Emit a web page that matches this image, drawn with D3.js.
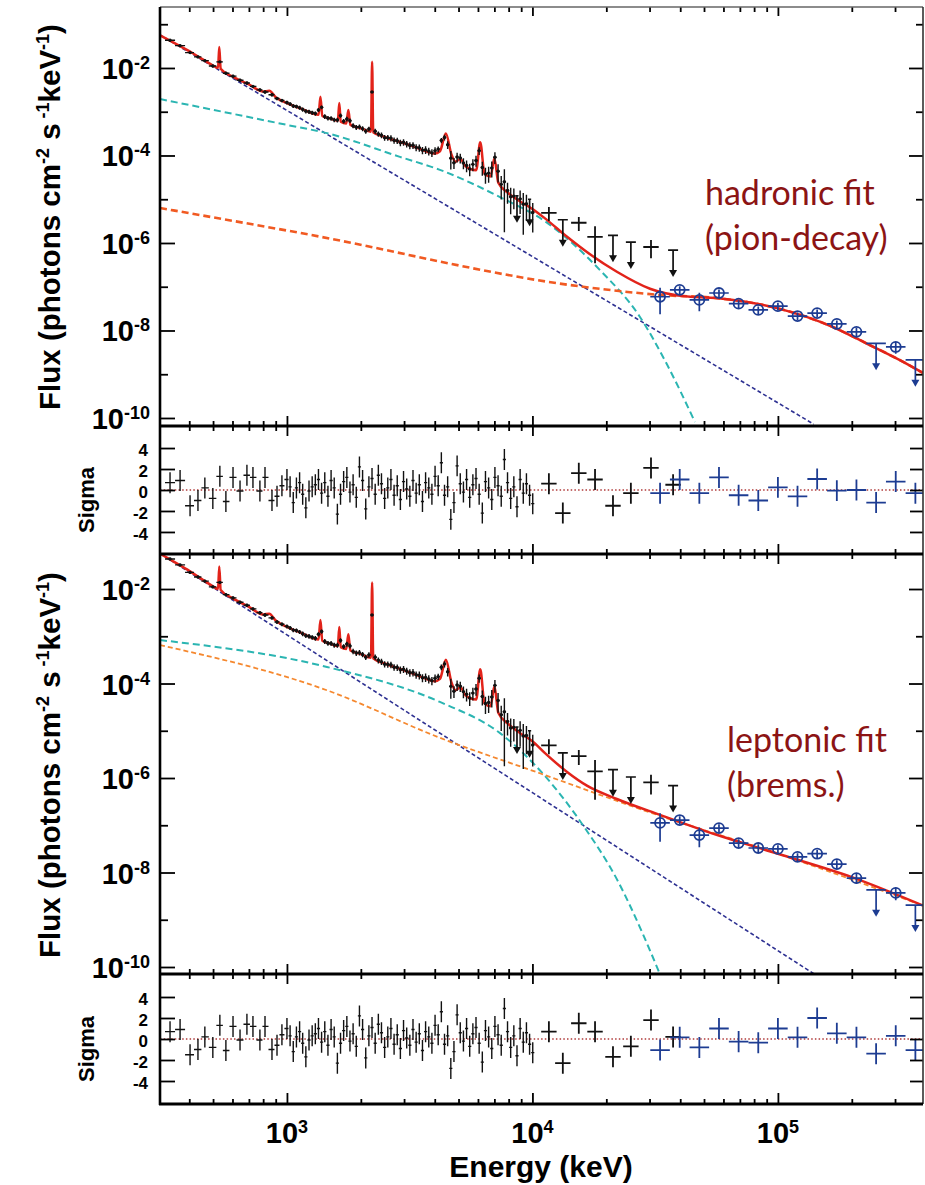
<!DOCTYPE html>
<html>
<head>
<meta charset="utf-8">
<title>Flare spectrum fits</title>
<script src="https://cdn.jsdelivr.net/npm/d3@7/dist/d3.min.js"></script>
<style>
	body {margin:0; background:#ffffff;}
	svg {display:block; font-family:"Liberation Sans", Arial, Helvetica, sans-serif; font-weight:bold;}
	.fitNote {font-family:Lato, "Open Sans", sans-serif; font-weight:normal; fill:#8c1414;}
</style>
</head>
<body>
<div id="idSpectrum"></div>
<script>
var aEnergyMajor = [1e3, 1e4, 1e5];
var aFluxMajor = [1e-10, 1e-8, 1e-6, 1e-4, 1e-2];
var aFluxMinor = [1e-9, 1e-7, 1e-5, 1e-3, 1e-1];
var aSigmaTicks = [-4, -2, 0, 2, 4];
var aFitNotes = [["hadronic fit", "(pion-decay)"], ["leptonic fit", "(brems.)"]];

// GBM fine bins (keV, photons cm-2 s-1 keV-1, relative error, residual)
var aGbmEnergy = [334,367,403,434,463,499,533,564,603,644,687,727,776,814,869,911,954,1000,
	1030,1061,1093,1126,1159,1194,1230,1267,1305,1344,1384,1426,1469,1513,1558,1605,1653,1702,1754,1806,
	1860,1916,1974,2033,2094,2157,2221,2288,2357,2427,2500,2575,2652,2732,2814,2898,2985,3075,3167,3262,
	3360,3461,3565,3671,3782,3895,4012,4132,4256,4384,4515,4651,4790,4934,5082,5235,5392,5553,5720,5891,
	6068,6250,6438,6631,6830,7034,7245,7463,7687,7917,8155,8400,8652,8911,9178,9454,9737,10030];
var aGbmFlux = [4.31e-2,3.24e-2,2.25e-2,1.79e-2,1.47e-2,1.11e-2,1.38e-2,7.6e-3,6.5e-3,5.25e-3,4.52e-3,3.8e-3,3.16e-3,2.82e-3,2.45e-3,2.0e-3,1.8e-3,1.62e-3,
	1.50e-3,1.35e-3,1.32e-3,1.24e-3,1.13e-3,1.03e-3,1.0e-3,9.5e-4,9.08e-4,1.10e-3,
	1.26e-3,7.8e-4,7.13e-4,7.05e-4,6.53e-4,6.49e-4,8.17e-4,6.08e-4,6.84e-4,6.25e-4,
	4.80e-4,4.41e-4,4.51e-4,4.12e-4,3.60e-4,4.04e-4,2.82e-3,3.60e-4,3.10e-4,2.90e-4,
	2.56e-4,2.54e-4,2.50e-4,2.21e-4,2.18e-4,1.95e-4,2.0e-4,1.84e-4,1.69e-4,1.71e-4,
	1.53e-4,1.50e-4,1.32e-4,1.35e-4,1.25e-4,1.15e-4,1.29e-4,1.40e-4,2.21e-4,2.58e-4,
	1.77e-4,8.7e-5,6.84e-5,9.27e-5,8.77e-5,6.75e-5,5.94e-5,4.92e-5,6.27e-5,7.66e-5,
	1.29e-4,5.30e-5,3.77e-5,3.95e-5,5.2e-5,9.14e-5,4.36e-5,2.19e-5,2.52e-5,1.58e-5,
	1.14e-5,1.18e-5,1.2e-5,1.02e-5,7.73e-6,7.93e-6,1.0e-5,4.99e-6];
var aGbmErr = [0.06,0.06,0.07,0.07,0.07,0.07,0.06,0.08,0.08,0.08,0.08,0.08,0.09,0.09,0.09,0.09,0.09,0.1,
	0.1,0.1,0.1,0.1,0.11,0.11,0.11,0.11,0.11,0.1,0.1,0.12,0.12,0.12,0.12,0.12,0.11,0.12,0.12,0.12,
	0.13,0.13,0.13,0.13,0.13,0.13,0.05,0.14,0.14,
	0.15,0.15,0.15,0.16,0.16,0.16,0.17,0.17,0.17,0.18,0.18,0.18,0.19,0.19,0.2,0.2,0.2,0.2,0.15,0.14,
	0.15,0.2,0.45,0.28,0.25,0.25,0.28,0.3,0.32,0.3,0.28,0.2,0.35,0.4,0.4,
	0.4,0.3,0.45,0.55,0.93,0.5,0.6,0.5,0,0.55,0.8,0.6,0,0.65];
var aGbmLimits = [8652, 9737];
var aGbmSigma = [0.7,0.9,-1.5,-1.0,0.2,-0.8,1.3,-1.1,1.2,-0.1,1.4,1.2,-0.1,1.2,-1.0,-0.6,0.4,1.0,
	0.3,-1.2,0.2,0.7,-0.4,-1.7,-0.1,0.3,0.5,1.0,
	-0.3,0.7,-0.6,0.9,0.2,-2.3,-0.4,0.8,1.2,-0.2,
	0.5,-0.7,2.2,0.9,-1.8,0.3,1.1,-0.4,1.4,0.6,
	-0.8,0.2,1.0,-0.5,0.4,-0.9,0.8,0.1,-0.6,0.9,
	-0.3,0.5,-1.1,0.7,0.2,-0.4,1.3,0.4,2.6,-0.5,
	0.3,-2.8,-1.2,2.3,0.6,-0.2,1.0,-0.7,0.5,1.1,
	-0.4,-2.2,0.8,0.2,-0.9,1.2,0.4,-0.6,2.9,0.7,
	-0.8,0.3,-1.6,1.0,-0.3,0.6,-0.5,-1.3];

// GBM wide bins above 11 MeV
var aWideEnergy = [11670, 13300, 15450, 17990, 21290, 25180, 30410, 37410];
var aWideFlux = [4.9e-6, 3.4e-6, 2.9e-6, 1.38e-6, 1.5e-6, 1.05e-6, 8.1e-7, 6.9e-7];
var aWideErr = [0.35, 0, 0.35, 0.75, 0, 0, 0.45, 0];
var aWideLimit = [0, 1, 0, 0, 1, 1, 0, 1];
var aWideSigmaH = [0.6, -2.2, 1.6, 1.0, -1.5, -0.3, 2.1, 0.5];
var aWideSigmaL = [0.7, -2.3, 1.5, 0.7, -1.7, -0.7, 1.8, 0.2];
var fWideHalfBin = 1.075;

// LAT bins
var aLatEnergy = [33110, 39810, 47860, 57540, 69180, 83180, 100000, 120200, 144500, 173800, 208900, 251200, 302000, 363100];
var aLatFluxH = [5.9e-8, 8.5e-8, 5.0e-8, 7.2e-8, 4.1e-8, 2.95e-8, 3.6e-8, 2.14e-8, 2.5e-8, 1.41e-8, 9.3e-9, 5.1e-9, 4.2e-9, 2.14e-9];
var aLatFluxL = [1.12e-7, 1.29e-7, 6.2e-8, 8.7e-8, 4.2e-8, 3.3e-8, 3.16e-8, 2.14e-8, 2.5e-8, 1.51e-8, 7.6e-9, 4.3e-9, 3.7e-9, 2.04e-9];
var aLatErr = [0.6, 0.2, 0.45, 0.2, 0.2, 0.2, 0.2, 0.2, 0.2, 0.2, 0.25, 0, 0.3, 0];
var aLatLimit = [0, 0, 0, 0, 0, 0, 0, 0, 0, 0, 0, 1, 0, 1];
var aLatSigmaH = [-0.3, 1.0, -0.3, 1.2, -0.5, -1.0, 0.25, -0.6, 1.05, -0.06, 0, -1.2, 0.8, -0.3];
var aLatSigmaL = [-1.05, 0.16, -0.8, 1.0, -0.25, -0.35, 1.0, 0.16, 2.0, 0.54, 0.16, -1.4, 0.3, -1.05];
var fLatHalfBin = 1.096;

// model components [keV, flux]
var aPowerLaw = [[304,5.7e-2],[1000,1.07e-3],[10000,4.9e-7],[140000,7.2e-11]];
var aCutoffH = [[304,1.95e-3],[1000,5.0e-4],[1455,3.24e-4],[2884,9.3e-5],[4198,4.7e-5],[7379,1.12e-5],[11220,3.16e-6],[18840,2.4e-7],[27420,2.04e-8],[35480,1.6e-9],[45920,8.1e-11]];
var aPionH = [[304,6.3e-6],[1130,1.7e-6],[16070,1.0e-7],[33110,6.5e-8],[56230,5.5e-8],[100000,3.2e-8],[167500,1.2e-8],[229000,5.1e-9],[314000,2.1e-9],[390000,1.07e-9]];
var aCutoffL = [[304,8.3e-4],[1455,2.24e-4],[4198,4.07e-5],[7379,8.9e-6],[11220,1.12e-6],[16070,1.0e-7],[22390,6.3e-9],[28180,5.0e-10],[33040,7.1e-11]];
var aBremsL = [[304,6.5e-4],[1455,7.2e-5],[4198,7.1e-6],[10720,1.26e-6],[33110,1.58e-7],[100000,2.5e-8],[390000,2.0e-9]];
var aLineModel = [[304,5.6e-2],[350,3.65e-2],[400,2.42e-2],[450,1.62e-2],[500,1.14e-2],[524,1.0e-2],[530,3.0e-2],[537,9.6e-3],
	[600,6.4e-3],[700,4.2e-3],[800,2.9e-3],[847,3.0e-3],[900,2.15e-3],[1000,1.58e-3],[1150,1.16e-3],
	[1345,8.5e-4],[1369,2.2e-3],[1393,8.0e-4],[1500,7.0e-4],[1612,6.2e-4],[1634,1.58e-3],[1656,5.9e-4],
	[1745,5.4e-4],[1779,1.1e-3],[1813,5.0e-4],[2000,4.2e-4],[2200,3.5e-4],[2223,1.38e-2],[2246,3.4e-4],
	[2500,2.65e-4],[3000,1.9e-4],[3500,1.4e-4],[4000,1.11e-4],[4200,1.25e-4],[4440,3.2e-4],[4680,1.05e-4],
	[4860,7.2e-5],[5080,8.3e-5],[5350,5.6e-5],[5900,4.6e-5],[6130,2.0e-4],[6380,3.8e-5],[6750,3.3e-5],
	[7000,8.7e-5],[7260,2.4e-5],[7943,1.41e-5],[8913,8.9e-6],[10000,6.0e-6]];
var aTotalH = aLineModel.concat([[11220,3.7e-6],[13800,1.4e-6],[16670,6.2e-7],[22080,2.2e-7],[30130,9.0e-8],[41020,6.1e-8],[56230,5.5e-8],[100000,3.2e-8],[167500,1.2e-8],[229000,5.1e-9],[314000,2.1e-9],[390000,1.07e-9]]);
var aTotalL = aLineModel.concat([[11220,3.4e-6],[13800,1.36e-6],[16670,6.9e-7],[22080,3.6e-7],[33110,1.66e-7],[56230,6.3e-8],[100000,2.5e-8],[200000,8.0e-9],[390000,2.0e-9]]);

var iLeft = 160, iRight = 923;
var sBlack = "#111111", sNavy = "#1d3c92";

var svgChart = d3.select("#idSpectrum").append("svg")
	.attr("width", 925)
	.attr("height", 1185);
var myDefs = svgChart.append("defs");

var xEnergy = d3.scaleLog().domain([304, 3.9e5]).range([iLeft, iRight]);
var yFluxH = d3.scaleLog().domain([6.56e-11, 0.2477]).range([426, 7]);
var ySigmaH = d3.scaleLinear().domain([-6.1, 6.1]).range([554, 426]);
var yFluxL = d3.scaleLog().domain([7.11e-11, 5.51e-2]).range([974, 554]);
var ySigmaL = d3.scaleLinear().domain([-6.19, 6.19]).range([1104, 974]);

function fClip(sID, yScale)
{
	var aR = yScale.range();
	myDefs.append("clipPath").attr("id", sID).append("rect")
		.attr("x", iLeft).attr("y", aR[1])
		.attr("width", iRight - iLeft).attr("height", aR[0] - aR[1]);
	return svgChart.append("g").attr("clip-path", "url(#" + sID + ")");
}

function fDrawModel(g, yScale, aPoints, sColor, fWidth, sDash, oCurve)
{
	var myLine = d3.line()
		.x(function(d) { return xEnergy(d[0]); })
		.y(function(d) { return yScale(d[1]); })
		.curve(oCurve);
	g.append("path").datum(aPoints)
		.attr("d", myLine)
		.attr("fill", "none")
		.attr("stroke", sColor)
		.attr("stroke-width", fWidth)
		.attr("stroke-dasharray", sDash);
}

function fCross(g, fX0, fX1, fXc, fY0, fY1, fYc, sColor, fWidth)
{
	g.append("path")
		.attr("d", "M" + fX0 + "," + fYc + "H" + fX1 + "M" + fXc + "," + fY0 + "V" + fY1)
		.attr("fill", "none")
		.attr("stroke", sColor)
		.attr("stroke-width", fWidth);
}

function fLimit(g, fX0, fX1, fXc, fY, sColor)
{
	var iLen = 27;
	g.append("path")
		.attr("d", "M" + fX0 + "," + fY + "H" + fX1 + "M" + fXc + "," + fY + "V" + (fY + iLen - 5))
		.attr("fill", "none")
		.attr("stroke", sColor)
		.attr("stroke-width", 1.7);
	g.append("path")
		.attr("d", "M" + (fXc - 4) + "," + (fY + iLen - 7) + "L" + fXc + "," + (fY + iLen) + "L" + (fXc + 4) + "," + (fY + iLen - 7) + "Z")
		.attr("fill", sColor);
}

function fEdges(aE, i)
{
	var fLo = i > 0 ? Math.sqrt(aE[i - 1] * aE[i]) : aE[i] / Math.sqrt(aE[i + 1] / aE[i]);
	var fHi = i < aE.length - 1 ? Math.sqrt(aE[i] * aE[i + 1]) : aE[i] * Math.sqrt(aE[i] / aE[i - 1]);
	return [fLo, fHi];
}

function fDrawData(g, yFlux, aLatFlux)
{
	aGbmEnergy.forEach(function(fE, i) {
		var aEdge = fEdges(aGbmEnergy, i);
		var fX = xEnergy(fE), fY = yFlux(aGbmFlux[i]);
		if (aGbmLimits.indexOf(fE) >= 0) {
			fLimit(g, xEnergy(aEdge[0]), xEnergy(aEdge[1]), fX, fY, sBlack);
			return;
		}
		var fLow = Math.max(aGbmFlux[i] * (1 - aGbmErr[i]), 1e-12);
		fCross(g, xEnergy(aEdge[0]), xEnergy(aEdge[1]), fX, yFlux(aGbmFlux[i] * (1 + aGbmErr[i])), yFlux(fLow), fY, sBlack, 1.4);
		g.append("circle").attr("cx", fX).attr("cy", fY).attr("r", 1.7).attr("fill", sBlack);
	});

	aWideEnergy.forEach(function(fE, i) {
		var fX0 = xEnergy(fE / fWideHalfBin), fX1 = xEnergy(fE * fWideHalfBin), fX = xEnergy(fE);
		var fY = yFlux(aWideFlux[i]);
		if (aWideLimit[i]) {
			fLimit(g, fX - 5, fX + 5, fX, fY, sBlack);
			return;
		}
		fCross(g, fX0, fX1, fX, yFlux(aWideFlux[i] * (1 + aWideErr[i])), yFlux(aWideFlux[i] * (1 - aWideErr[i])), fY, sBlack, 1.8);
	});

	aLatEnergy.forEach(function(fE, i) {
		var fX0 = xEnergy(fE / fLatHalfBin), fX1 = xEnergy(fE * fLatHalfBin), fX = xEnergy(fE);
		var fY = yFlux(aLatFlux[i]);
		if (aLatLimit[i]) {
			fLimit(g, fX0, fX1, fX, fY, sNavy);
			return;
		}
		fCross(g, fX0, fX1, fX, yFlux(aLatFlux[i] * (1 + aLatErr[i])), yFlux(aLatFlux[i] * (1 - aLatErr[i])), fY, sNavy, 1.7);
		g.append("circle")
			.attr("cx", fX).attr("cy", fY).attr("r", 5)
			.attr("fill", "none")
			.attr("stroke", sNavy)
			.attr("stroke-width", 1.8);
	});
}

function fDrawResiduals(g, ySig, aWideSigma, aLatSigma)
{
	g.append("line")
		.attr("x1", iLeft).attr("x2", iRight)
		.attr("y1", ySig(0)).attr("y2", ySig(0))
		.attr("stroke", "#b03a3a")
		.attr("stroke-width", 1.6)
		.attr("stroke-dasharray", "1.5,2.2");

	aGbmEnergy.forEach(function(fE, i) {
		var aEdge = fEdges(aGbmEnergy, i);
		fCross(g, xEnergy(aEdge[0]), xEnergy(aEdge[1]), xEnergy(fE), ySig(aGbmSigma[i] + 1), ySig(aGbmSigma[i] - 1), ySig(aGbmSigma[i]), sBlack, 1.4);
	});
	aWideEnergy.forEach(function(fE, i) {
		fCross(g, xEnergy(fE / fWideHalfBin), xEnergy(fE * fWideHalfBin), xEnergy(fE), ySig(aWideSigma[i] + 1), ySig(aWideSigma[i] - 1), ySig(aWideSigma[i]), sBlack, 1.8);
	});
	aLatEnergy.forEach(function(fE, i) {
		fCross(g, xEnergy(fE / fLatHalfBin), xEnergy(fE * fLatHalfBin), xEnergy(fE), ySig(aLatSigma[i] + 1), ySig(aLatSigma[i] - 1), ySig(aLatSigma[i]), sNavy, 1.8);
	});
}

// hadronic panel
var gFluxH = fClip("idClipFluxH", yFluxH);
fDrawModel(gFluxH, yFluxH, aPowerLaw, "#2e3192", 1.6, "4,2.5", d3.curveLinear);
fDrawModel(gFluxH, yFluxH, aCutoffH, "#2bb5b2", 2, "7,4", d3.curveMonotoneX);
fDrawModel(gFluxH, yFluxH, aPionH, "#f15a22", 2.6, "7,4", d3.curveMonotoneX);
fDrawModel(gFluxH, yFluxH, aTotalH, "#e2231a", 2.5, null, d3.curveMonotoneX);
fDrawData(gFluxH, yFluxH, aLatFluxH);
fDrawResiduals(fClip("idClipSigH", ySigmaH), ySigmaH, aWideSigmaH, aLatSigmaH);

// leptonic panel
var gFluxL = fClip("idClipFluxL", yFluxL);
fDrawModel(gFluxL, yFluxL, aPowerLaw, "#2e3192", 1.6, "4,2.5", d3.curveLinear);
fDrawModel(gFluxL, yFluxL, aCutoffL, "#2bb5b2", 2, "7,4", d3.curveMonotoneX);
fDrawModel(gFluxL, yFluxL, aBremsL, "#f5882f", 1.8, "5,3", d3.curveMonotoneX);
fDrawModel(gFluxL, yFluxL, aTotalL, "#e2231a", 2.5, null, d3.curveMonotoneX);
fDrawData(gFluxL, yFluxL, aLatFluxL);
fDrawResiduals(fClip("idClipSigL", ySigmaL), ySigmaL, aWideSigmaL, aLatSigmaL);

// ticks
function fTicks(oAxis, aValues, iSize, sTranslate)
{
	var gTicks = svgChart.append("g")
		.attr("transform", sTranslate)
		.call(oAxis.tickValues(aValues).tickSize(iSize).tickSizeOuter(0).tickFormat(""));
	gTicks.select(".domain").remove();
	gTicks.selectAll("line").attr("stroke", "#000").attr("stroke-width", 1.8);
}

var aEnergyMinor = xEnergy.ticks().filter(function(v) {
	return Math.abs(Math.log10(v) - Math.round(Math.log10(v))) > 1e-6;
});

fTicks(d3.axisBottom(xEnergy), aEnergyMajor, 9, "translate(0,7)");
fTicks(d3.axisBottom(xEnergy), aEnergyMinor, 5, "translate(0,7)");
[426, 554, 974].forEach(function(iY) {
	fTicks(d3.axisTop(xEnergy), aEnergyMajor, 10, "translate(0," + iY + ")");
	fTicks(d3.axisTop(xEnergy), aEnergyMinor, 5, "translate(0," + iY + ")");
	fTicks(d3.axisBottom(xEnergy), aEnergyMajor, 10, "translate(0," + iY + ")");
	fTicks(d3.axisBottom(xEnergy), aEnergyMinor, 5, "translate(0," + iY + ")");
});
fTicks(d3.axisTop(xEnergy), aEnergyMajor, 11, "translate(0,1104)");
fTicks(d3.axisTop(xEnergy), aEnergyMinor, 5, "translate(0,1104)");

[yFluxH, yFluxL].forEach(function(yScale) {
	var aD = yScale.domain();
	var aMinor = aFluxMinor.filter(function(v) { return v > aD[0] && v < aD[1]; });
	fTicks(d3.axisRight(yScale), aFluxMajor, 15, "translate(" + iLeft + ",0)");
	fTicks(d3.axisRight(yScale), aMinor, 8, "translate(" + iLeft + ",0)");
	fTicks(d3.axisLeft(yScale), aFluxMajor, 14, "translate(" + iRight + ",0)");
	fTicks(d3.axisLeft(yScale), aMinor, 7, "translate(" + iRight + ",0)");
});
[ySigmaH, ySigmaL].forEach(function(yScale) {
	fTicks(d3.axisRight(yScale), aSigmaTicks, 15, "translate(" + iLeft + ",0)");
	fTicks(d3.axisLeft(yScale), aSigmaTicks, 13, "translate(" + iRight + ",0)");
});

// frame
svgChart.append("line").attr("x1", iLeft).attr("x2", iRight).attr("y1", 7).attr("y2", 7)
	.attr("stroke", "#666").attr("stroke-width", 1.6);
svgChart.append("line").attr("x1", iRight).attr("x2", iRight).attr("y1", 7).attr("y2", 1104)
	.attr("stroke", "#333").attr("stroke-width", 1.6);
[426, 554, 974, 1104].forEach(function(iY) {
	svgChart.append("line").attr("x1", iLeft - 1).attr("x2", iRight).attr("y1", iY).attr("y2", iY)
		.attr("stroke", "#000").attr("stroke-width", 3);
});
svgChart.append("line").attr("x1", iLeft).attr("x2", iLeft).attr("y1", 7).attr("y2", 1105)
	.attr("stroke", "#000").attr("stroke-width", 2.6);

// labels
function fPowerLabel(fX, fY, sExp, sAnchor)
{
	var oText = svgChart.append("text")
		.attr("x", fX).attr("y", fY)
		.attr("text-anchor", sAnchor)
		.style("font-size", "29px");
	oText.append("tspan").text("10");
	oText.append("tspan").attr("dy", -10).style("font-size", "18px").text(sExp);
}

[yFluxH, yFluxL].forEach(function(yScale) {
	aFluxMajor.forEach(function(v) {
		fPowerLabel(150, yScale(v) + 11, String(Math.round(Math.log10(v))), "end");
	});
});
aEnergyMajor.forEach(function(v) {
	fPowerLabel(xEnergy(v), 1143, String(Math.round(Math.log10(v))), "middle");
});
[ySigmaH, ySigmaL].forEach(function(yScale) {
	aSigmaTicks.forEach(function(v) {
		svgChart.append("text")
			.attr("x", 148).attr("y", yScale(v) + 8)
			.attr("text-anchor", "end")
			.style("font-size", "17px")
			.text(String(v));
	});
});

function fFluxTitle(fCenterY)
{
	var oT = svgChart.append("text")
		.attr("transform", "translate(60," + fCenterY + ") rotate(-90)")
		.attr("text-anchor", "middle")
		.style("font-size", "29.5px");
	oT.append("tspan").text("Flux (photons cm");
	oT.append("tspan").attr("dy", -11).style("font-size", "18px").text("-2");
	oT.append("tspan").attr("dy", 11).text(" s");
	oT.append("tspan").attr("dy", -11).style("font-size", "18px").text(" -1");
	oT.append("tspan").attr("dy", 11).text("keV");
	oT.append("tspan").attr("dy", -11).style("font-size", "18px").text("-1");
	oT.append("tspan").attr("dy", 11).text(")");
}
fFluxTitle(217);
fFluxTitle(765);

[500, 1049].forEach(function(fY) {
	svgChart.append("text")
		.attr("transform", "translate(94," + fY + ") rotate(-90)")
		.attr("text-anchor", "middle")
		.style("font-size", "22px")
		.text("Sigma");
});

svgChart.append("text")
	.attr("x", 541).attr("y", 1177)
	.attr("text-anchor", "middle")
	.style("font-size", "30px")
	.text("Energy (keV)");

var aNotePos = [[705, 205, 250], [727, 752, 797]];
aFitNotes.forEach(function(aLines, i) {
	aLines.forEach(function(sLine, j) {
		svgChart.append("text")
			.attr("class", "fitNote")
			.attr("x", aNotePos[i][0])
			.attr("y", aNotePos[i][1 + j])
			.style("font-size", "34px")
			.text(sLine);
	});
});
</script>
</body>
</html>
